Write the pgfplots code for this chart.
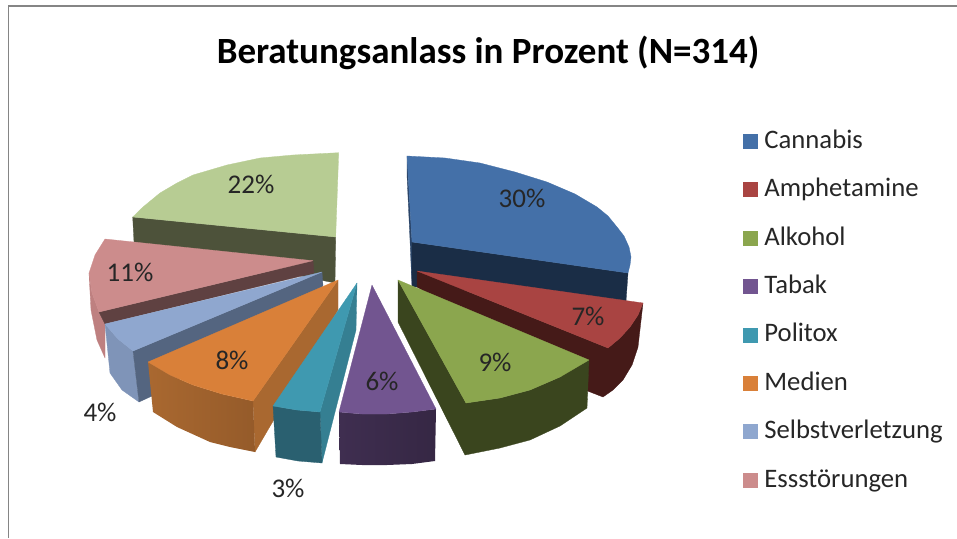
\documentclass[border=0pt]{standalone}
\usepackage{fontspec}
\setmainfont{Carlito}
\usepackage{pgfplots}
\pgfplotsset{compat=1.18}
\definecolor{cBlue}{HTML}{4470A8}\definecolor{dBlue}{HTML}{1A2D46}\definecolor{sBlue}{HTML}{2A4468}
\definecolor{cRed}{HTML}{A94442}\definecolor{dRed}{HTML}{451A18}
\definecolor{cGreen}{HTML}{8BA64E}\definecolor{dGreen}{HTML}{3A451E}
\definecolor{cPurple}{HTML}{725590}\definecolor{dPurple}{HTML}{3F2E50}
\definecolor{cTeal}{HTML}{3F99B0}\definecolor{dTeal}{HTML}{2A6070}\definecolor{mTeal}{HTML}{357F92}
\definecolor{cOrange}{HTML}{D98039}\definecolor{dOrange}{HTML}{A96830}\definecolor{eOrange}{HTML}{955B2A}
\definecolor{cSel}{HTML}{8FA7CF}\definecolor{dSel}{HTML}{546580}\definecolor{mSel}{HTML}{7F94B8}
\definecolor{cPink}{HTML}{CC8C8C}\definecolor{dPink}{HTML}{5F4141}\definecolor{mPink}{HTML}{BE8080}
\definecolor{cLG}{HTML}{B7CC93}\definecolor{dLG}{HTML}{4D523A}
\newcommand\poly[2]{\addplot[forget plot,fill=#1,draw=#1,line width=0.3pt,line join=round] coordinates {#2} -- cycle;}
\newcommand\swatch[2]{\addlegendimage{legend image code/.code={\fill[#1] (0pt,0pt) rectangle (14pt,14pt);}}\addlegendentry{#2}}
\begin{document}
\begin{tikzpicture}
\begin{axis}[
  scale only axis, width=957pt, height=538pt,
  xmin=0, xmax=957, ymin=0, ymax=538, y dir=reverse,
  axis lines=none, clip=true,
  legend style={at={(axis cs:743,134)},anchor=north west,draw=none,fill=none,inner sep=0pt,outer sep=0pt,
    font=\fontsize{26.7}{27}\selectfont,text=black!85,
    row sep=34pt,/tikz/every odd column/.append style={column sep=7pt},
    nodes={inner sep=0pt,anchor=base west,text height=14pt,text depth=0pt}},
  legend cell align=left,
]
% frame
\addplot[forget plot,color=black!48,line width=1.8pt] coordinates {(8.5,538) (8.5,6) (957,6)};
% page extent
\addplot[forget plot,draw=none] coordinates {(0,0) (957,538)};
% Cannabis
\poly{sBlue}{(407,156)(412,242)(412,287)(410,240)(407,175)}
\poly{dBlue}{(412,242)(628,273)(626,301)(417,287)(412,287)}
\poly{cBlue}{(412,242)(407,156)(445,158)(480,163)(515,172)(547,182)(575,194)(597,207)(608,216)(617,227)(624,236)(629,247)(631,257)(630,265)(628,273)}
% unlabelled 22%
\poly{dLG}{(132.7,217)(335.7,237)(335,283)(134,242)}
\poly{cLG}{(335.7,237)(338.7,152.7)(293,155)(260,158)(227,165)(193,175)(177,183)(160,193)(143,207)(132.7,217)}
% Essstoerungen
\poly{mPink}{(89,273)(92,293)(99,312)(105,324)(105,358)(97,340)(91,310)}
\poly{dPink}{(99,312)(313,260.7)(314,273)(105,324)}
\poly{cPink}{(313,260.7)(105,239)(95,255)(89,273)(92,293)(99,312)}
% Selbstverletzung
\poly{mSel}{(105,324)(118,339)(133,351)(139,402)(122,390)(110,373)}
\poly{dSel}{(133,351)(322,272)(323,286)(152,396)(139,402)}
\poly{cSel}{(322,272)(105,324)(118,339)(133,351)}
% Medien
\poly{dOrange}{(253,401)(338,280)(338,310)(255,452)}
\addplot[forget plot,draw=none,left color=dOrange,right color=eOrange] coordinates {(148,362)(170,375)(193,385)(222,394)(253,401)(255,452)(230,447)(210,442)(177,427)(153,412)} -- cycle;
\poly{cOrange}{(338,280)(148,362)(170,375)(193,385)(222,394)(253,401)}
% Politox
\poly{mTeal}{(320,412)(357,283)(356,330)(322,463)}
\poly{dTeal}{(273,406)(297,410)(320,412)(322,463)(298,461)(276,457)}
\poly{cTeal}{(357,283)(273,406)(297,410)(320,412)}
% Amphetamine
\poly{dRed}{(417,271)(608,348)(620,338)(630,327)(638,315)(643,303)(638,347)(632,365)(623,380)(613,390)(603,397)(585,390)(417,287)}
\poly{cRed}{(417,271)(643,303)(638,315)(630,327)(620,338)(608,348)}
% Alkohol
\poly{dGreen}{(398,280)(466,403)(500,398)(530,390)(560,377)(589,360)(587,408)(560,426)(530,440)(500,448)(465,455)(398,322)}
\poly{cGreen}{(398,280)(466,403)(500,398)(530,390)(560,377)(589,360)}
% Tabak
\addplot[forget plot,draw=none,left color=dPurple,right color=dPurple!85!black] coordinates {(339,412)(362,414)(387,414)(412,412)(436,409)(435,461)(412,464)(387,465)(362,465)(340,464)} -- cycle;
\poly{cPurple}{(372,285)(339,412)(362,414)(387,414)(412,412)(436,409)}
\addplot[forget plot,color=white,line width=1.4pt] coordinates {(373,284)(438,409)(437,462)};
% legend
\swatch{cBlue}{Cannabis}
\swatch{cRed}{Amphetamine}
\swatch{cGreen}{Alkohol}
\swatch{cPurple}{Tabak}
\swatch{cTeal}{Politox}
\swatch{cOrange}{Medien}
\swatch{cSel}{Selbstverletzung}
\swatch{cPink}{Essstörungen}
% labels
\node[font=\fontsize{37}{37}\selectfont\bfseries] at (axis cs:488,53) {Beratungsanlass in Prozent (N=314)};
\begin{scope}[every node/.style={font=\fontsize{27}{27}\selectfont,text=black!85}]
\node at (axis cs:522,198) {30\%};
\node at (axis cs:588,316) {7\%};
\node at (axis cs:495,362) {9\%};
\node at (axis cs:382,381) {6\%};
\node at (axis cs:288,488) {3\%};
\node at (axis cs:232,360) {8\%};
\node at (axis cs:100,412) {4\%};
\node at (axis cs:130,272) {11\%};
\node at (axis cs:251,184) {22\%};
\end{scope}
\end{axis}
\end{tikzpicture}
\end{document}
